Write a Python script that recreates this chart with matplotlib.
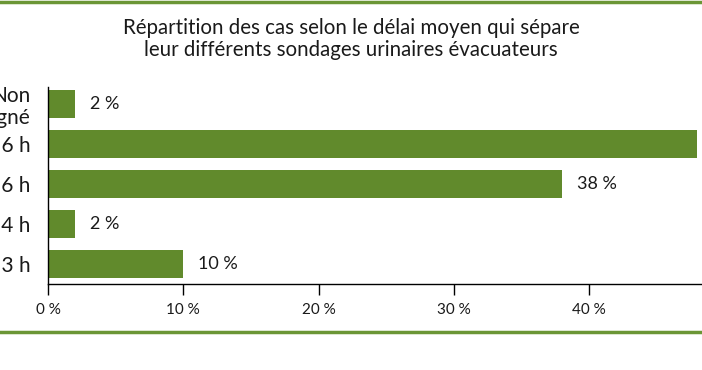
import matplotlib
matplotlib.use("Agg")
import matplotlib.pyplot as plt
from matplotlib.lines import Line2D

# data
categories = ["\u2264 3 h", "3\u20134 h", "4\u20136 h", "> 6 h", "Non\nrenseign\u00e9"]
values = [10, 2, 38, 48, 2]
value_labels = ["10 %", "2 %", "38 %", "48 %", "2 %"]
xticks = [0, 10, 20, 30, 40]
xtick_labels = ["0 %", "10 %", "20 %", "30 %", "40 %"]

green = "#618a2c"
plt.rcParams['font.family'] = ['Lato', 'DejaVu Sans']

W, H = 702, 370
fig = plt.figure(figsize=(W / 100, H / 100), dpi=100)
fig.patch.set_facecolor("white")

# axes placed in pixels: 0% at x=48, 10% = 135.3 px
left = 48 / W
width = 50 * 13.53 / W
bottom = (H - 284) / H
height = (284 - 87) / H
ax = fig.add_axes([left, bottom, width, height])

ypos = list(range(len(categories)))
ax.barh(ypos, values, height=0.7, color=green)
ax.set_xlim(0, 50)
ax.set_ylim(-0.5, 4.425)

for y, v, lab in zip(ypos, values, value_labels):
    ax.annotate(lab, (v, y), xytext=(10.5, 0), textcoords="offset points",
                va="center", ha="left", fontsize=13, color="#1a1a1a")

ax.set_yticks(ypos)
ax.set_yticklabels(categories, fontsize=15, color="#1a1a1a", linespacing=1.15)
ax.tick_params(axis="y", left=False, pad=9)
ax.set_xticks(xticks)
ax.set_xticklabels(xtick_labels, fontsize=11, color="#1a1a1a")
ax.tick_params(axis="x", direction="out", length=8, width=1, pad=6)

for s in ["top", "right"]:
    ax.spines[s].set_visible(False)
ax.spines["left"].set_linewidth(1)
ax.spines["bottom"].set_linewidth(1)

fig.text(0.5, (H - 39) / H,
         "R\u00e9partition des cas selon le d\u00e9lai moyen qui s\u00e9pare\n"
         "leur diff\u00e9rents sondages urinaires \u00e9vacuateurs",
         ha="center", va="center", fontsize=14.8, color="#1a1a1a", linespacing=1.1)

# green rules top and bottom
fig.add_artist(Line2D([0, 1], [1 - 1.5 / H, 1 - 1.5 / H], color="#6b9636", lw=2.5))
fig.add_artist(Line2D([0, 1], [(H - 332) / H, (H - 332) / H], color="#6b9636", lw=2.5))

fig.savefig("out.png", dpi=100)
